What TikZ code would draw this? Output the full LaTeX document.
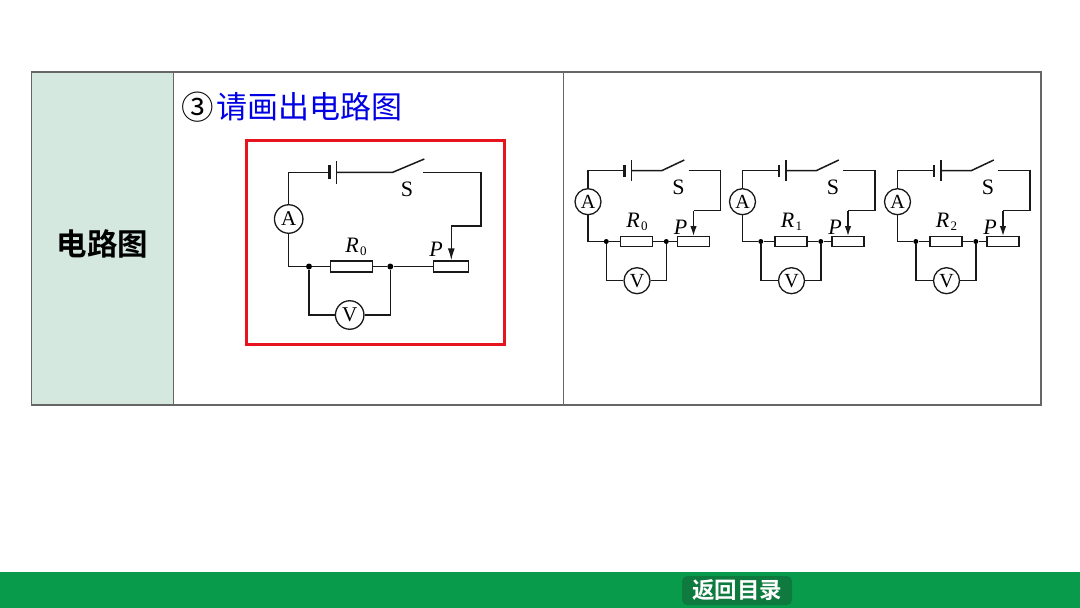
\documentclass[tikz,border=0pt]{standalone}
\usepackage{fontspec}
\setmainfont{Liberation Serif}
\newfontfamily\cjk{Noto Sans CJK SC}
\newfontfamily\cjkbold{Noto Sans CJK SC Bold}
\usetikzlibrary{arrows.meta}
\definecolor{headfill}{RGB}{213,232,224}
\definecolor{barfill}{RGB}{8,155,76}
\definecolor{btnfill}{RGB}{14,122,62}
\definecolor{boxred}{RGB}{230,20,30}
\newcommand{\Rlab}[1]{\textit{R}\kern1.5pt\raisebox{-3.5pt}{\fontsize{13}{13}\selectfont #1}}
\tikzset{
    cell/.style={draw=black!60, line width=1.2pt, inner sep=0pt},
    wire/.style={line width=1.5pt, black!90},
    meter/.style={circle, draw=black!90, line width=1.3pt, fill=white, inner sep=0pt, font=\fontsize{21}{21}\selectfont},
    res/.style={rectangle, draw=black!90, line width=1.3pt, fill=white, inner sep=0pt},
    dot/.style={circle, fill=black, inner sep=0pt, minimum size=6pt},
    lab/.style={inner sep=0pt, font=\fontsize{22}{22}\selectfont}
}
\begin{document}
\begin{tikzpicture}[x=1pt, y=-1pt]
    \useasboundingbox (0,0) rectangle (1080,608);

    % table
    \node (head) [cell, fill=headfill, minimum width=142pt, minimum height=333pt] at (102.5,238.5) {};
    \node (left) [cell, minimum width=390pt, minimum height=333pt] at (368.5,238.5) {};
    \node (right) [cell, minimum width=477.5pt, minimum height=333pt] at (802.25,238.5) {};
    \node (headtext) [inner sep=0pt, font=\cjkbold\fontsize{30.5}{30.5}\selectfont] at (102.5,244) {电路图};
    \node (num) [inner sep=0pt, font=\cjk\fontsize{32.5}{32.5}\selectfont] at (198,107) {③};
    \node (title) [inner sep=0pt, text=blue!90!black, font=\cjk\fontsize{31}{31}\selectfont] at (309,107) {请画出电路图};

    % bottom bar
    \node (bar) [fill=barfill, minimum width=1080pt, minimum height=36pt, inner sep=0pt] at (540,590) {};
    \node (back) [fill=btnfill, rounded corners=5pt, minimum width=110pt, minimum height=29pt, inner sep=0pt,
        text=white, font=\cjkbold\fontsize{22.5}{22.5}\selectfont] at (737,590.5) {返回目录};

    % big circuit
    \node (box) [draw=boxred, line width=2.6pt, minimum width=258pt, minimum height=204pt, inner sep=0pt] at (375.5,242.5) {};
    \node (A) [meter, minimum size=28.5pt] at (288.7,219) {A};
    \node (V) [meter, minimum size=28.5pt] at (349.7,315) {V};
    \node (R) [res, minimum width=42pt, minimum height=11pt] at (351.7,266.5) {};
    \node (rh) [res, minimum width=35pt, minimum height=11pt] at (451.3,266.5) {};
    \node (S) [lab] at (407,189.5) {S};
    \node (Rl) [lab] at (356,247) {\Rlab{0}};
    \node (Pl) [lab] at (436,249) {\textit{P}};
    \node (d1) [dot] at (309,266.5) {};
    \node (d2) [dot] at (390.3,266.5) {};
    \coordinate (c1) at (288.7,172.3);
    \coordinate (c2) at (288.7,266.5);
    \coordinate (bat1) at (329.7,172.3);
    \coordinate (bat2) at (336.7,172.3);
    \coordinate (sw1) at (392.7,172.3);
    \coordinate (sw2) at (424.3,159);
    \coordinate (sw3) at (423,172.3);
    \coordinate (c3) at (481,172.3);
    \coordinate (c4) at (481,226);
    \coordinate (c5) at (451.3,226);

    \draw [wire] (A.north) -- (c1) -- (bat1);
    \draw [wire] (A.south) -- (c2) -- (d1) -- (R.west);
    \draw [wire] (R.east) -- (d2) -- (rh.west);
    \draw [wire] (bat2) -- (sw1) -- (sw2);
    \draw [wire] (sw3) -- (c3) -- (c4) -- (c5);
    \draw [wire, -{Latex[length=12pt,width=7pt]}] (c5) -- (rh.north);
    \draw [wire] (d1) |- (V.west);
    \draw [wire] (d2) |- (V.east);
    \draw [line width=2.6pt, black!90] ([yshift=-7pt]bat1) -- ([yshift=7pt]bat1);
    \draw [line width=1.5pt, black!90] ([yshift=-11.5pt]bat2) -- ([yshift=11.5pt]bat2);

    % small circuits
    \foreach \dx/\idx/\num in {0/a/0, 154.5/b/1, 309.5/c/2} {
        \begin{scope}[shift={(\dx,0)}]
            \node (A\idx) [meter, minimum size=26pt, font=\fontsize{20}{20}\selectfont] at (588,201.7) {A};
            \node (V\idx) [meter, minimum size=26pt, font=\fontsize{20}{20}\selectfont] at (637,280.7) {V};
            \node (R\idx) [res, minimum width=32pt, minimum height=9.5pt] at (636.5,241.5) {};
            \node (rh\idx) [res, minimum width=32pt, minimum height=9.5pt] at (693.5,241.5) {};
            \node (S\idx) [lab] at (678.5,187.5) {S};
            \node (Rl\idx) [lab] at (637,222) {\Rlab{\num}};
            \node (Pl\idx) [lab] at (680.5,227) {\textit{P}};
            \node (da\idx) [dot, minimum size=5pt] at (606.3,241.5) {};
            \node (db\idx) [dot, minimum size=5pt] at (666.3,241.5) {};
            \coordinate (ca\idx) at (588,170.7);
            \coordinate (cb\idx) at (588,241.5);
            \coordinate (bata\idx) at (624.3,170.7);
            \coordinate (batb\idx) at (631.7,170.7);
            \coordinate (swa\idx) at (661.7,170.7);
            \coordinate (swb\idx) at (684.3,160);
            \coordinate (swc\idx) at (688.7,170.7);
            \coordinate (cc\idx) at (720.7,170.7);
            \coordinate (cd\idx) at (720.7,210.7);
            \coordinate (ce\idx) at (693.5,210.7);

            \draw [wire] (A\idx.north) -- (ca\idx) -- (bata\idx);
            \draw [wire] (A\idx.south) -- (cb\idx) -- (da\idx) -- (R\idx.west);
            \draw [wire] (R\idx.east) -- (db\idx) -- (rh\idx.west);
            \draw [wire] (batb\idx) -- (swa\idx) -- (swb\idx);
            \draw [wire] (swc\idx) -- (cc\idx) -- (cd\idx) -- (ce\idx);
            \draw [wire, -{Latex[length=10pt,width=6.5pt]}] (ce\idx) -- (rh\idx.north);
            \draw [wire] (da\idx) |- (V\idx.west);
            \draw [wire] (db\idx) |- (V\idx.east);
            \draw [line width=2.4pt, black!90] ([yshift=-6pt]bata\idx) -- ([yshift=6pt]bata\idx);
            \draw [line width=1.5pt, black!90] ([yshift=-10.5pt]batb\idx) -- ([yshift=10.5pt]batb\idx);
        \end{scope}
    }
\end{tikzpicture}
\end{document}
